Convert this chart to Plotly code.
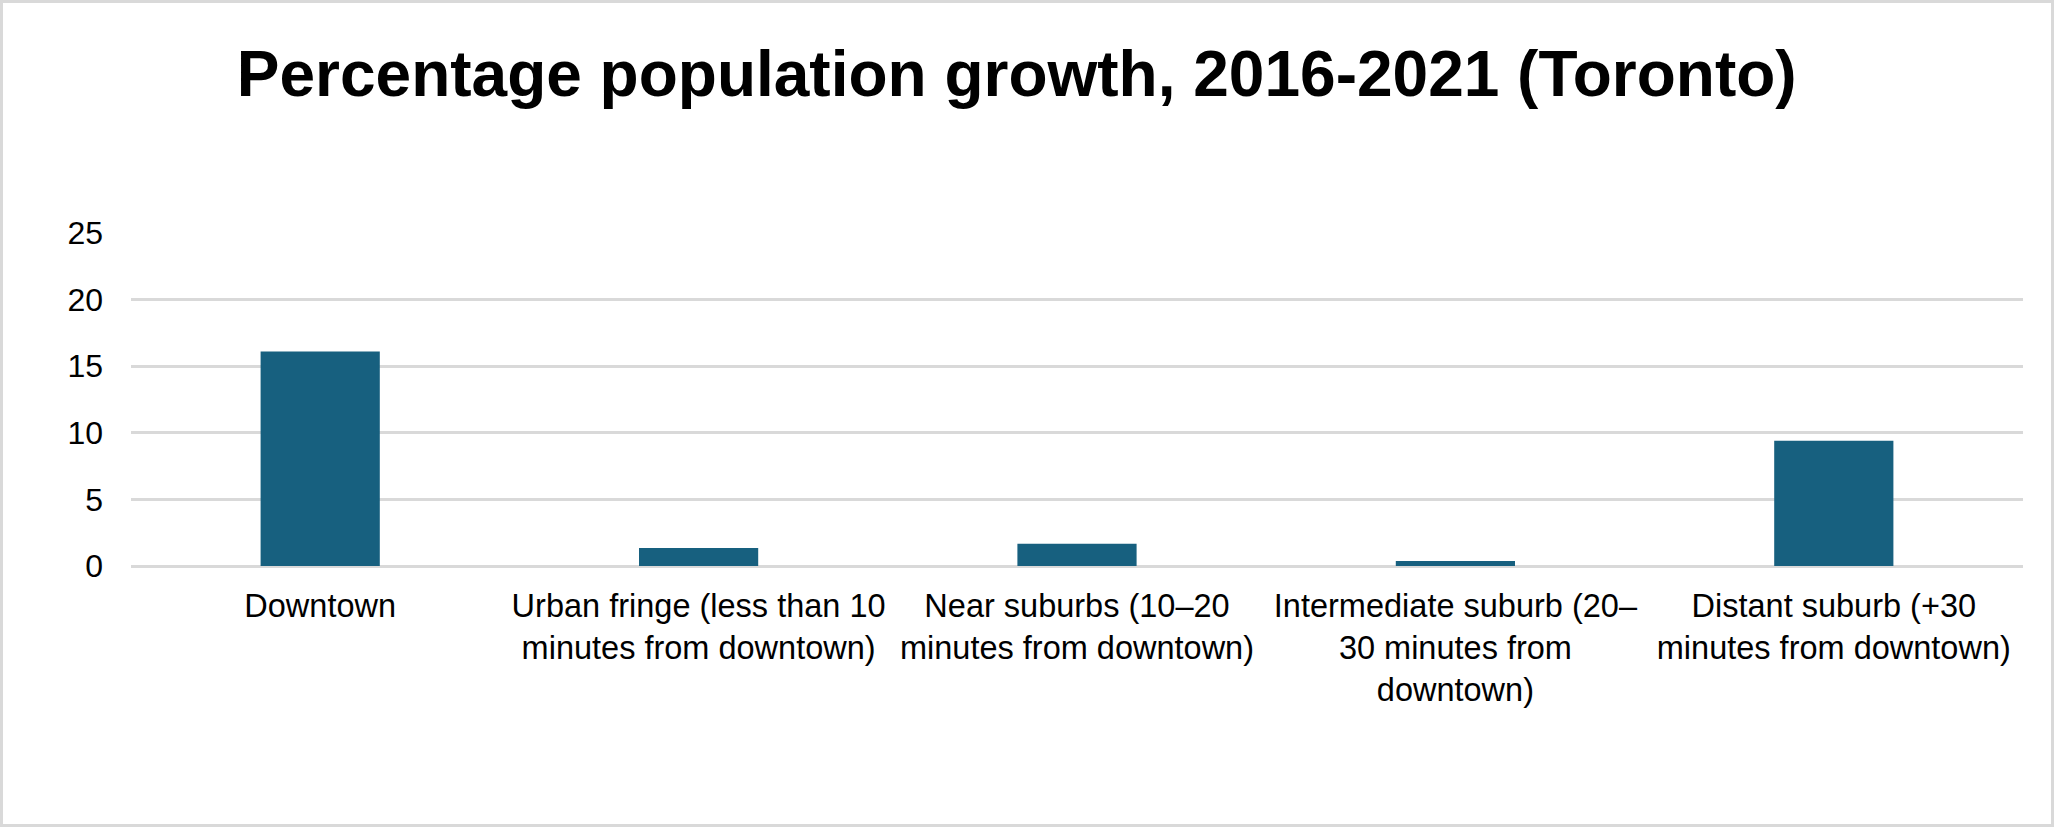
import plotly.graph_objects as go

categories = [
    "Downtown",
    "Urban fringe (less than 10 minutes from downtown)",
    "Near suburbs (10–20 minutes from downtown)",
    "Intermediate suburb (20–30 minutes from downtown)",
    "Distant suburb (+30 minutes from downtown)",
]
tick_labels = [
    "Downtown",
    "Urban fringe (less than 10<br>minutes from downtown)",
    "Near suburbs (10–20<br>minutes from downtown)",
    "Intermediate suburb (20–<br>30 minutes from<br>downtown)",
    "Distant suburb (+30<br>minutes from downtown)",
]
growth_pct = [16.1, 1.35, 1.67, 0.38, 9.4]
y_ticks = [0, 5, 10, 15, 20, 25]

W, H = 2054, 827
ML, MR, MT, MB = 131, 31, 233, 261
PW, PH = W - ML - MR, H - MT - MB

fig = go.Figure(go.Bar(x=categories, y=growth_pct, marker=dict(color="#17607F", line=dict(width=0)),
                       hoverinfo="x+y"))

fig.update_layout(
    width=W, height=H,
    margin=dict(l=ML, r=MR, t=MT, b=MB),
    paper_bgcolor="white", plot_bgcolor="white",
    bargap=0.685,
    showlegend=False,
    font=dict(family="Liberation Sans, Arial, sans-serif", color="#000000", size=32),
    title=dict(text="<b>Percentage population growth, 2016-2021 (Toronto)</b>",
               font=dict(size=64, color="#000000", family="Liberation Sans, Arial, sans-serif"),
               x=0.495, xanchor="center", y=1 - 74 / H, yanchor="middle", yref="container"),
    xaxis=dict(tickmode="array", tickvals=categories, ticktext=tick_labels,
               showgrid=False, showline=False, zeroline=False, ticks="",
               ticklabelstandoff=17, tickfont=dict(size=32.5)),
    yaxis=dict(range=[0, 25], tickvals=y_ticks, showgrid=True, gridcolor="#D9D9D9", gridwidth=3,
               zeroline=True, zerolinecolor="#D9D9D9", zerolinewidth=3, showline=False,
               ticks="", ticklabelstandoff=27, tickfont=dict(size=32)),
    shapes=[dict(type="rect", xref="paper", yref="paper",
                 x0=-(ML - 1.5) / PW, x1=1 + (MR - 1.5) / PW,
                 y0=-(MB - 1.5) / PH, y1=1 + (MT - 1.5) / PH,
                 line=dict(color="#D9D9D9", width=3), layer="below")],
)

fig.write_html("out.html", config={"displayModeBar": False},
               post_script="document.body.style.margin='0';document.body.style.overflow='hidden';")
